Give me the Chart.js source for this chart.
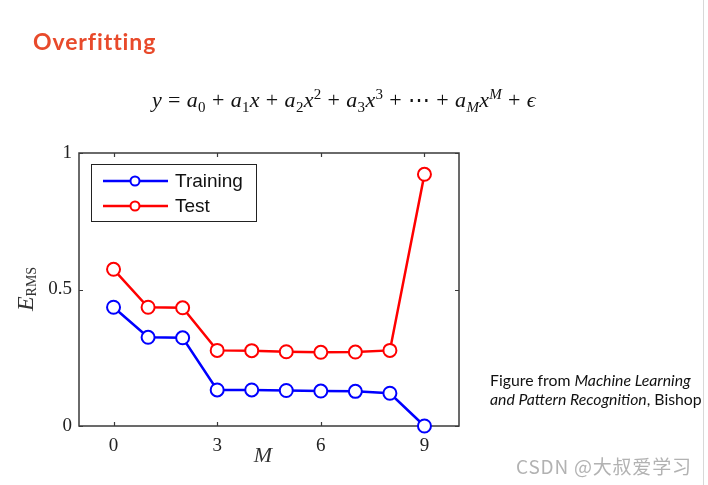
<!DOCTYPE html>
<html>
<head>
<meta charset="utf-8">
<script src="https://cdn.jsdelivr.net/npm/chart.js@4.4.1/dist/chart.umd.min.js"></script>
<style>
  html, body { margin: 0; padding: 0; background: #fff; }
  #wrap { position: relative; width: 708px; height: 485px; overflow: hidden; }
  #chart { position: absolute; left: 0; top: 0; }
  .title {
    position: absolute; left: 33px; top: 27px; letter-spacing: 0.9px;
    font: bold 23px Lato, "Open Sans", sans-serif; color: #e84a2b;
  }
  .eq {
    position: absolute; left: 152px; top: 87px; white-space: nowrap;
    font: italic 22px "Liberation Serif", serif; color: #111; letter-spacing: 0.3px;
  }
  .eq sub, .eq sup { font-size: 15px; line-height: 0; font-style: normal; }
  .eq sub.i, .eq sup.i { font-style: italic; }
  .eq .op { font-style: normal; margin: 0 6px; }
  .caption {
    position: absolute; left: 490px; top: 370px;
    font: 15.8px Lato, sans-serif; color: #111; line-height: 19px;
  }
  .wm {
    position: absolute; left: 516px; top: 452px; letter-spacing: 0.8px;
    font: 19px "Noto Sans CJK SC", sans-serif; color: rgba(165, 165, 165, 0.85);
  }
  .edge { position: absolute; left: 703px; top: 0; width: 1px; height: 485px; background: #d8d8d8; }
</style>
</head>
<body>
<div id="wrap">
  <canvas id="chart" width="708" height="485"></canvas>
  <div class="title">Overfitting</div>
  <div class="eq">y<span class="op">=</span>a<sub>0</sub><span class="op">+</span>a<sub>1</sub>x<span class="op">+</span>a<sub>2</sub>x<sup>2</sup><span class="op">+</span>a<sub>3</sub>x<sup>3</sup><span class="op">+</span><span style="font-style:normal">⋯</span><span class="op">+</span>a<sub class="i">M</sub>x<sup class="i">M</sup><span class="op">+</span>ϵ</div>
  <div class="caption">Figure from <i>Machine Learning</i><br><i>and Pattern Recognition</i>, Bishop</div>
  <div class="wm">CSDN @大叔爱学习</div>
  <div class="edge"></div>
</div>
<script>
const orders = [0, 1, 2, 3, 4, 5, 6, 7, 8, 9];
const trainingErr = [0.435, 0.325, 0.323, 0.132, 0.132, 0.130, 0.128, 0.127, 0.120, 0.0];
const testErr = [0.574, 0.435, 0.433, 0.277, 0.276, 0.272, 0.270, 0.271, 0.277, 0.922];
const xTickValues = [0, 3, 6, 9];
const yTickValues = [0, 0.5, 1];
const seriesNames = ['Training', 'Test'];
const seriesColors = ['#0000ff', '#ff0000'];

const toPoints = (ys) => orders.map((m, i) => ({ x: m, y: ys[i] }));

// MATLAB-style box with inward ticks on all four sides
const frame = {
  id: 'frame',
  beforeDatasetsDraw(chart) {
    const { ctx, chartArea: a, scales } = chart;
    ctx.save();
    ctx.strokeStyle = '#3a3a3a';
    ctx.lineWidth = 1.5;
    ctx.strokeRect(a.left, a.top, a.right - a.left, a.bottom - a.top);
    ctx.lineWidth = 1.2;
    ctx.beginPath();
    xTickValues.forEach((v) => {
      const px = Math.round(scales.x.getPixelForValue(v)) + 0.5;
      ctx.moveTo(px, a.bottom); ctx.lineTo(px, a.bottom - 4);
      ctx.moveTo(px, a.top); ctx.lineTo(px, a.top + 4);
    });
    yTickValues.forEach((v) => {
      const py = Math.round(scales.y.getPixelForValue(v)) + 0.5;
      ctx.moveTo(a.left, py); ctx.lineTo(a.left + 4, py);
      ctx.moveTo(a.right, py); ctx.lineTo(a.right - 4, py);
    });
    ctx.stroke();
    ctx.restore();
  },
  afterDraw(chart) {
    const { ctx, chartArea: a } = chart;
    ctx.save();
    // legend box
    const bx = a.left + 12, by = a.top + 11, bw = 165, bh = 57;
    ctx.fillStyle = '#fff';
    ctx.fillRect(bx, by, bw, bh);
    ctx.strokeStyle = '#222';
    ctx.lineWidth = 1;
    ctx.strokeRect(bx + 0.5, by + 0.5, bw, bh);
    seriesNames.forEach((name, i) => {
      const y = by + 17 + i * 25;
      ctx.strokeStyle = seriesColors[i];
      ctx.lineWidth = 2.5;
      ctx.beginPath();
      ctx.moveTo(bx + 12, y); ctx.lineTo(bx + 77, y);
      ctx.stroke();
      ctx.beginPath();
      ctx.arc(bx + 44, y, 4.5, 0, Math.PI * 2);
      ctx.fillStyle = '#fff';
      ctx.fill();
      ctx.lineWidth = 2;
      ctx.stroke();
      ctx.fillStyle = '#111';
      ctx.font = '19px "Liberation Sans", Arial, sans-serif';
      ctx.textBaseline = 'middle';
      ctx.fillText(name, bx + 84, y + 1);
    });
    // x axis title
    ctx.fillStyle = '#333';
    ctx.font = 'italic 22px "Liberation Serif", serif';
    ctx.textAlign = 'center';
    ctx.textBaseline = 'alphabetic';
    ctx.fillText('M', 263, 462);
    // y axis title E_RMS
    ctx.translate(33, 289);
    ctx.rotate(-Math.PI / 2);
    ctx.textAlign = 'left';
    ctx.font = 'italic 24px "Liberation Serif", serif';
    const ew = ctx.measureText('E').width;
    ctx.font = '14px "Liberation Serif", serif';
    const rw = ctx.measureText('RMS').width;
    const start = -(ew + rw) / 2;
    ctx.font = 'italic 24px "Liberation Serif", serif';
    ctx.fillText('E', start, 0);
    ctx.font = '14px "Liberation Serif", serif';
    ctx.fillText('RMS', start + ew, 3);
    ctx.restore();
  }
};

const makeSet = (i, ys) => ({
  label: seriesNames[i],
  data: toPoints(ys),
  borderColor: seriesColors[i],
  backgroundColor: seriesColors[i],
  borderWidth: 2.5,
  pointRadius: 6.5,
  pointBorderWidth: 2,
  pointBackgroundColor: '#fff',
  pointBorderColor: seriesColors[i],
  tension: 0,
  clip: false,
});

new Chart(document.getElementById('chart'), {
  type: 'line',
  data: {
    datasets: [makeSet(0, trainingErr), makeSet(1, testErr)],
  },
  options: {
    responsive: false,
    animation: false,
    layout: { padding: { left: 0, top: 153, right: 249, bottom: 0 } },
    plugins: { legend: { display: false }, tooltip: { enabled: false } },
    scales: {
      x: {
        type: 'linear',
        min: -1,
        max: 10,
        afterBuildTicks: (s) => { s.ticks = xTickValues.map((v) => ({ value: v })); },
        afterFit: (s) => { s.height = 59; },
        grid: { display: false, drawTicks: false },
        border: { display: false },
        ticks: {
          padding: 9,
          color: '#222',
          font: { family: '"Liberation Serif", serif', size: 19 },
        },
      },
      y: {
        min: 0,
        max: 1,
        afterBuildTicks: (s) => { s.ticks = yTickValues.map((v) => ({ value: v })); },
        afterFit: (s) => { s.width = 79; },
        grid: { display: false, drawTicks: false },
        border: { display: false },
        ticks: {
          padding: 7,
          color: '#222',
          font: { family: '"Liberation Serif", serif', size: 19 },
          callback: (v) => String(v),
        },
      },
    },
  },
  plugins: [frame],
});
</script>
</body>
</html>
